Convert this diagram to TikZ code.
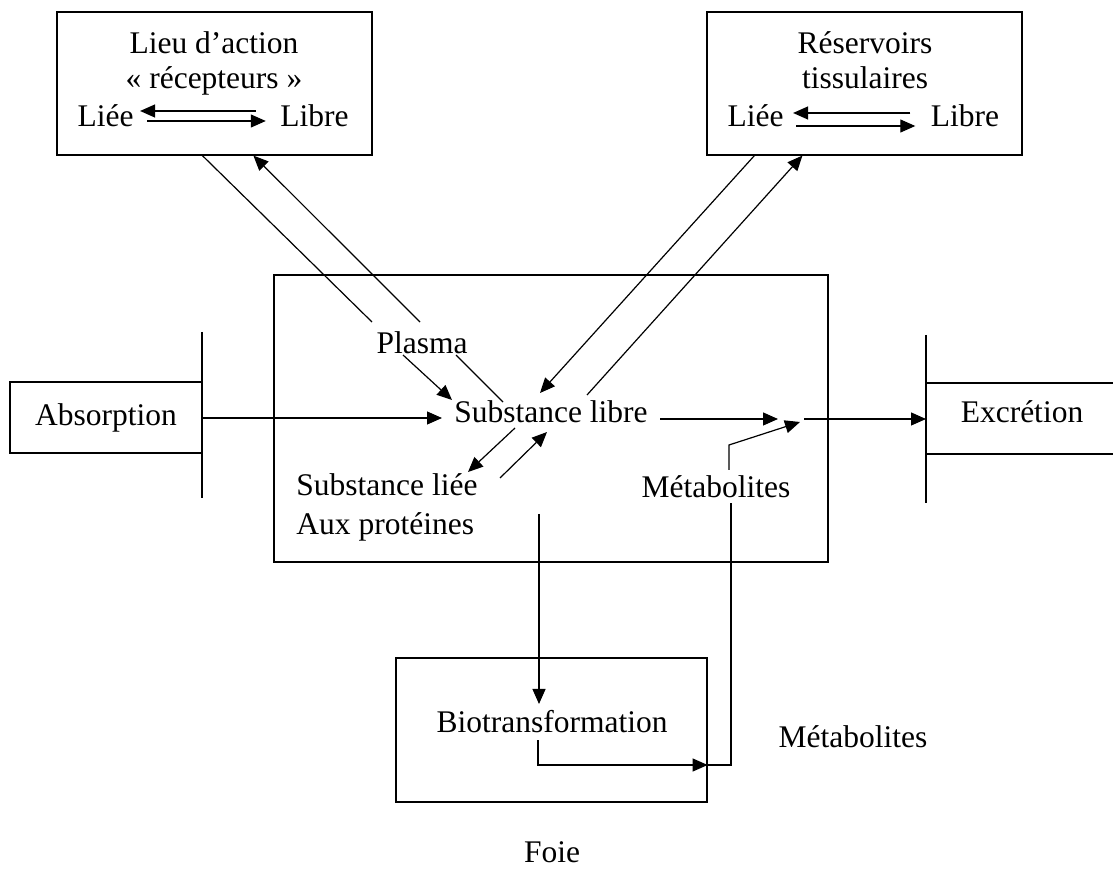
\documentclass[tikz,border=0pt]{standalone}
\usepackage{fontspec}
\setmainfont{Liberation Serif}
\usetikzlibrary{arrows.meta}

\begin{document}
\begin{tikzpicture}[x=.5pt,y=-.5pt,line width=.6pt,
  every node/.style={font=\fontsize{15.75}{19.5}\selectfont, inner sep=0pt},
  titre/.style={align=center, font=\fontsize{15.75}{17.5}\selectfont},
  boite/.style={draw, rectangle},
  fl/.style={-{Triangle[length=7.5pt,width=6.5pt]}}]
\useasboundingbox (0,0) rectangle (1113,870);
% boxes
\node[boite, minimum width=157.5pt, minimum height=71.5pt] (lieu) at (214.5,83.5) {};
\node[boite, minimum width=157.5pt, minimum height=71.5pt] (reserv) at (864.5,83.5) {};
\node[boite, minimum width=277pt, minimum height=143.5pt] (plasmabox) at (551,418.5) {};
\node[boite, minimum width=96pt, minimum height=35.5pt] (absorption) at (106,417.5) {Absorption};
\node[boite, minimum width=155.5pt, minimum height=72pt] (foie) at (551.5,730) {};
% bars
\draw (202,332) -- (202,498);
\draw (926,335) -- (926,503);
\draw (1113,383) -- (926,383);
\draw (926,454) -- (1113,454);
% texts
\node[titre] (lieutitre) at (214,63.5) {Lieu d’action\\« récepteurs »};
\node (lie1) at (105.5,116) {Liée};
\node (libre1) at (314.5,116) {Libre};
\node[titre] (reservtitre) at (865,60) {Réservoirs\\tissulaires};
\node (lie2) at (755.5,116) {Liée};
\node (libre2) at (965,116) {Libre};
\node (plasma) at (422,343) {Plasma};
\node (libre) at (551,412) {Substance libre};
\node[align=left] (liee) at (387,507.5) {Substance liée\\Aux protéines};
\node (metab) at (716,487) {Métabolites};
\node (excretion) at (1022,412) {Excrétion};
\node (bio) at (552,722) {Biotransformation};
\node (metab2) at (853,737) {Métabolites};
\node (foietxt) at (552,852) {Foie};
% free ends
\coordinate (pl1) at (372,322);
\coordinate (pl2) at (403,355);
\coordinate (pl3) at (456,355);
\coordinate (pl4) at (420,322);
\coordinate (sl0) at (442,418);
\coordinate (sl1) at (452,400);
\coordinate (sl2) at (503,402);
\coordinate (sl3) at (540,393);
\coordinate (sl4) at (587,395);
\coordinate (sl5) at (515,428);
\coordinate (sl6) at (547,432);
\coordinate (sp1) at (468,472);
\coordinate (sp2) at (500,478);
\coordinate (jn1) at (778,419);
\coordinate (jn2) at (800,422);
\coordinate (jn3) at (804,419);
\coordinate (ex1) at (926,419);
\coordinate (mt1) at (729,470);
\coordinate (mt2) at (731,503);
\coordinate (hp1) at (539,514);
\coordinate (hp2) at (539,704);
\coordinate (bt1) at (538,740);
% equilibria in the boxes
\draw[fl, shorten <=12pt, shorten >=3pt] ([yshift=2.5pt]libre1.west) -- ([yshift=2.5pt]lie1.east);
\draw[fl, shorten <=6.5pt, shorten >=7pt] ([yshift=-2.5pt]lie1.east) -- ([yshift=-2.5pt]libre1.west);
\draw[fl, shorten <=10pt, shorten >=4.5pt] ([yshift=1.5pt]libre2.west) -- ([yshift=1.5pt]lie2.east);
\draw[fl, shorten <=6pt, shorten >=7.5pt] ([yshift=-5pt]lie2.east) -- ([yshift=-5pt]libre2.west);
% lieu d'action and plasma
\draw ([xshift=73pt]lieu.south west) -- (pl1);
\draw[fl] (pl2) -- (sl1);
\draw (sl2) -- (pl3);
\draw[fl] (pl4) -- ([xshift=98.5pt]lieu.south west);
% reservoirs and plasma
\draw[fl] ([xshift=24pt]reserv.south west) -- (sl3);
\draw[fl] (sl4) -- ([xshift=48pt]reserv.south west);
% absorption, binding
\draw[fl] (absorption.east |- sl0) -- (sl0);
\draw[fl] (sl5) -- (sp1);
\draw[fl] (sp2) -- (sl6);
% towards excretion
\draw[fl, shorten <=6pt] (libre.east |- jn1) -- (jn1);
\draw[fl] (mt1) -- ++(0,-25) -- (jn2);
\draw[fl] (jn3) -- (ex1);
% liver
\draw[fl] (hp1) -- (hp2);
\draw[fl] (bt1) |- ([yshift=-17.5pt]foie.east);
\draw ([yshift=-17.5pt]foie.east) -| (mt2);
\end{tikzpicture}
\end{document}
